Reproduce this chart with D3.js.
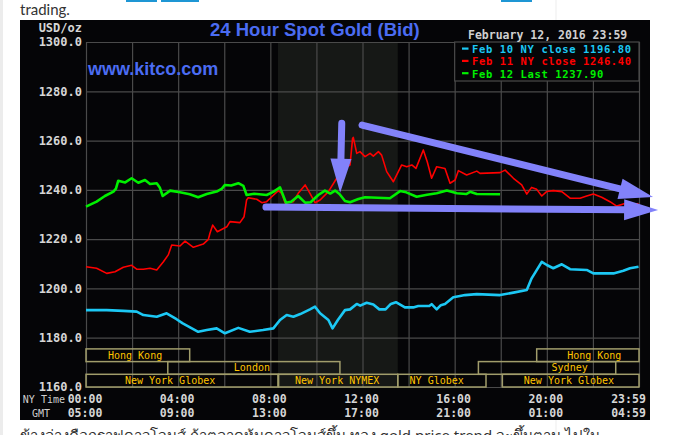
<!DOCTYPE html>
<html><head><meta charset="utf-8">
<script src="https://cdn.jsdelivr.net/npm/d3@7"></script>
<style>
html,body{margin:0;padding:0;background:#fff;overflow:hidden}
svg{display:block}
</style></head><body>
<svg id="c" width="675" height="435"></svg>
<script>
// ---------------- DATA ----------------
const chartTitle = "24 Hour Spot Gold (Bid)";
const chartDate = "February 12, 2016 23:59";
const yUnit = "USD/oz";
const watermark = "www.kitco.com";
const seriesNames = ["Feb 10 NY close 1196.80", "Feb 11 NY close 1246.40", "Feb 12 Last 1237.90"];

const yTicks = [1160, 1180, 1200, 1220, 1240, 1260, 1280, 1300];
const gridHours = [0, 2, 4, 6, 8, 10, 12, 14, 16, 18, 20, 22, 24];
const labelHours = [0, 4, 8, 12, 16, 20, 24];
const nyTimeLabels = ["00:00", "04:00", "08:00", "12:00", "16:00", "20:00", "23:59"];
const gmtLabels = ["05:00", "09:00", "13:00", "17:00", "21:00", "01:00", "04:59"];

// [hour (NY time), price]
const feb10 = [[0,1191.2],[0.9,1191.2],[1.62,1190.9],[2.2,1190.6],[2.49,1189.2],[3.07,1188.5],[3.5,1189.9],[3.93,1187.5],[4.2,1185.8],[4.87,1182.4],[5.24,1183.1],[5.67,1183.8],[6.03,1181.8],[6.61,1184.0],[7.11,1182.4],[7.68,1183.1],[8.13,1183.8],[8.42,1187.2],[8.71,1189.2],[9.0,1188.5],[9.3,1189.6],[9.72,1191.5],[9.94,1192.6],[10.16,1189.9],[10.52,1187.2],[10.7,1183.8],[10.93,1187.2],[11.24,1191.2],[11.46,1191.5],[11.75,1193.7],[11.9,1193.0],[12.18,1194.2],[12.47,1193.5],[12.73,1191.5],[13.0,1191.5],[13.23,1193.7],[13.45,1194.4],[13.84,1192.3],[14.2,1192.3],[14.42,1192.9],[14.9,1192.9],[15.0,1193.6],[15.22,1191.5],[15.4,1193.2],[15.58,1193.7],[15.94,1196.4],[16.23,1196.9],[16.45,1197.3],[16.96,1197.7],[17.97,1197.3],[18.55,1198.3],[19.13,1199.4],[19.34,1204.1],[19.78,1210.8],[20.0,1209.5],[20.28,1208.2],[20.65,1209.8],[21.01,1207.8],[21.73,1207.5],[22.02,1206.1],[22.89,1206.1],[23.32,1207.2],[23.61,1208.2],[23.98,1208.8]];

const feb11 = [[0,1208.8],[0.46,1208.2],[0.9,1206.1],[1.26,1206.8],[1.62,1208.6],[1.98,1209.4],[2.2,1207.8],[2.49,1207.8],[2.78,1208.2],[3.07,1207.5],[3.36,1210.8],[3.57,1213.6],[3.72,1217.6],[4.08,1217.2],[4.3,1219.2],[4.66,1216.7],[5.09,1218.0],[5.31,1219.9],[5.38,1222.4],[5.5,1225.7],[5.7,1223.0],[6.11,1225.0],[6.25,1227.1],[6.68,1226.7],[6.86,1229.1],[6.97,1235.9],[7.04,1236.8],[7.41,1236.2],[7.63,1234.8],[7.84,1235.2],[7.99,1236.6],[8.35,1239.7],[8.49,1238.6],[8.64,1234.8],[9.0,1235.2],[9.21,1238.6],[9.51,1242.0],[9.72,1238.6],[9.94,1234.8],[10.16,1235.9],[10.52,1239.3],[10.88,1244.7],[11.32,1249.4],[11.46,1250.1],[11.57,1260.9],[11.6,1261.3],[11.75,1254.8],[11.89,1255.5],[12.11,1253.5],[12.33,1254.8],[12.47,1253.7],[12.69,1255.5],[12.83,1254.1],[13.05,1247.4],[13.34,1243.3],[13.7,1250.1],[13.92,1249.4],[14.14,1250.1],[14.32,1248.7],[14.64,1256.2],[14.81,1251.4],[15.0,1244.7],[15.22,1249.4],[15.58,1248.7],[15.8,1242.7],[16.02,1244.0],[16.16,1247.8],[16.52,1246.0],[16.96,1247.6],[17.1,1246.7],[17.97,1247.0],[18.19,1248.0],[18.55,1244.7],[18.91,1242.0],[19.13,1238.3],[19.34,1241.0],[19.56,1240.2],[19.78,1237.5],[19.99,1239.3],[20.28,1239.7],[20.65,1239.3],[21.01,1236.6],[21.44,1236.6],[21.73,1237.5],[22.02,1238.3],[22.38,1237.0],[22.74,1235.2],[23.03,1233.4],[23.32,1234.3],[23.9,1234.3],[23.98,1234.5]];

const feb12 = [[0,1233.2],[0.46,1235.2],[0.82,1237.5],[1.19,1239.3],[1.3,1240.5],[1.4,1243.7],[1.7,1243.0],[1.98,1244.7],[2.27,1242.9],[2.56,1244.0],[2.78,1242.4],[3.07,1242.7],[3.2,1241.0],[3.33,1237.5],[3.65,1239.7],[4.08,1239.0],[4.5,1238.2],[4.87,1237.0],[5.24,1238.3],[5.67,1239.3],[5.9,1240.5],[6.03,1242.0],[6.3,1241.8],[6.61,1242.7],[6.83,1241.6],[6.97,1237.9],[7.3,1238.4],[7.84,1237.9],[8.13,1239.2],[8.42,1241.0],[8.68,1234.8],[8.9,1235.2],[9.21,1237.5],[9.51,1234.8],[9.75,1235.0],[10.08,1237.9],[10.37,1239.7],[10.6,1238.5],[10.81,1239.7],[11.0,1238.3],[11.24,1235.5],[11.46,1235.0],[11.82,1236.3],[12.11,1237.0],[13.19,1236.6],[13.63,1239.5],[13.9,1239.0],[14.35,1237.2],[14.8,1238.0],[15.22,1238.6],[15.66,1239.7],[16.1,1238.6],[16.5,1238.3],[16.67,1239.2],[16.96,1238.3],[17.97,1238.2]];

// NYMEX pit session shading (hours)
const shadeStart = 8.33, shadeEnd = 13.53;

// trading sessions: name, row (0 = top), start hour, end hour, label hour
const sessionNames  = ["Hong Kong", "Hong Kong", "London", "Sydney", "New York Globex", "New York NYMEX", "NY Globex", "New York Globex"];
const sessionRows   = [0, 0, 1, 1, 2, 2, 2, 2];
const sessionStarts = [0, 19.56, 3.55, 17.03, 0, 8.36, 13.53, 18.07];
const sessionEnds   = [4.5, 24, 11.02, 22.99, 8.33, 13.53, 17.36, 24];
const sessionLabelAt= [2.13, 22.06, 7.2, 20.99, 3.65, 10.9, 15.22, 20.96];

// hand-drawn annotation arrows, in chart coordinates [hour, price]
const arrowFrom = [[11.1, 1267.0], [11.98, 1266.3], [7.81, 1233.0]];
const arrowTo   = [[11.03, 1238.8], [24.61, 1237.1], [24.83, 1231.8]];

const pageTopText = "trading.";
const pageBottomText = "ข้างล่างคือกราฟดาวโจนส์ ถ้าตลาดหุ้นดาวโจนส์ขึ้น ทอง gold price trend จะขึ้นตาม ไปใน";

// ---------------- STYLE / LAYOUT ----------------
const colors = ["#1cc8f4", "#ff0000", "#00f000"];
const widths = [2.6, 1.6, 2.6];
const mono = "'DejaVu Sans Mono', monospace";
const gridColor = "#4a4a4a";

const svg = d3.select("#c");
svg.append("rect").attr("width", 675).attr("height", 435).attr("fill", "#fff");
// page decorations
svg.append("rect").attr("x", 0).attr("y", 0).attr("width", 3).attr("height", 435).attr("fill", "#ececec");
svg.append("rect").attr("x", 555.5).attr("y", 0).attr("width", 1).attr("height", 435).attr("fill", "#eeeeee");
[[126,157],[161,199],[501,532]].forEach(s => svg.append("rect").attr("x", s[0]).attr("y", 0).attr("width", s[1]-s[0]).attr("height", 2).attr("fill", "#1e96d4"));
svg.append("text").attr("x", 20).attr("y", 15).attr("font-family", "Lato, 'Open Sans', sans-serif").attr("font-size", 15).attr("fill", "#333").text(pageTopText);
svg.append("text").attr("x", 20).attr("y", 441).attr("font-family", "'Noto Sans', 'DejaVu Sans', sans-serif").attr("font-size", 15).attr("fill", "#333").text(pageBottomText);

// chart image background
svg.append("rect").attr("x", 20).attr("y", 20).attr("width", 630).attr("height", 400).attr("fill", "#050507");

const x = d3.scaleLinear().domain([0, 24]).range([86, 639]);
const y = d3.scaleLinear().domain([1160, 1300]).range([387, 42]);

// shading
svg.append("rect").attr("x", x(shadeStart)).attr("y", y(1300))
  .attr("width", x(shadeEnd) - x(shadeStart)).attr("height", y(1160) - y(1300)).attr("fill", "#161816");

// vertical grid
const gx = svg.append("g").attr("transform", `translate(0,${y(1160)})`)
  .call(d3.axisBottom(x).tickValues(gridHours).tickSize(-(y(1160) - y(1300))).tickFormat(""));
gx.select(".domain").remove();
gx.selectAll("line").attr("stroke", gridColor).attr("stroke-width", 1.2);

// horizontal grid + y labels
const gy = svg.append("g").attr("transform", `translate(${x(0)},0)`)
  .call(d3.axisLeft(y).tickValues(yTicks).tickSize(-(x(24) - x(0))).tickPadding(4).tickFormat(d3.format(".1f")));
gy.select(".domain").remove();
gy.selectAll("line").attr("stroke", gridColor).attr("stroke-width", 1.2);
gy.selectAll("text").attr("fill", "#d6d6d6").attr("font-family", mono).attr("font-weight", "bold").attr("font-size", 12);

// x labels (NY time and GMT)
function timeAxis(labels, pad) {
  const g = svg.append("g").attr("transform", `translate(0,${y(1160)})`)
    .call(d3.axisBottom(x).tickValues(labelHours).tickSize(0).tickPadding(pad)
      .tickFormat((d, i) => labels[i]));
  g.select(".domain").remove();
  g.selectAll("text").attr("fill", "#d6d6d6").attr("font-family", mono).attr("font-weight", "bold").attr("font-size", 11.5)
    .attr("dx", (d, i) => i === labels.length - 1 ? -11 : -1.5);
}
timeAxis(nyTimeLabels, 7.5);
timeAxis(gmtLabels, 21.5);
svg.append("text").attr("x", 65).attr("y", 403).attr("text-anchor", "end").attr("font-family", mono).attr("font-size", 10).attr("fill", "#cfcfcf").text("NY Time");
svg.append("text").attr("x", 32).attr("y", 417).attr("font-family", mono).attr("font-size", 10).attr("fill", "#cfcfcf").text("GMT");
svg.append("text").attr("x", 82).attr("y", 32).attr("text-anchor", "end").attr("font-family", mono).attr("font-weight", "bold").attr("font-size", 12).attr("fill", "#d6d6d6").text(yUnit);

// series lines
const line = d3.line().x(d => x(d[0])).y(d => y(d[1]));
[feb10, feb11, feb12].forEach((s, i) => {
  svg.append("path").datum(s).attr("d", line).attr("fill", "none")
    .attr("stroke", colors[i]).attr("stroke-width", widths[i]).attr("stroke-linejoin", "round");
});

// sessions
const rowH = 12.7;
const plotBottom = y(1160);
const sg = svg.append("g");
sessionNames.forEach((n, i) => {
  const top = plotBottom - (3 - sessionRows[i]) * rowH;
  sg.append("rect").attr("x", x(sessionStarts[i])).attr("y", top)
    .attr("width", x(sessionEnds[i]) - x(sessionStarts[i])).attr("height", rowH)
    .attr("fill", "none").attr("stroke", "#a19d6b").attr("stroke-width", 1.5);
  sg.append("text").attr("x", x(sessionLabelAt[i])).attr("y", top + rowH - 3)
    .attr("text-anchor", "middle").attr("font-family", mono).attr("font-size", 10).attr("fill", "#ffc400").text(n);
});

// legend box
svg.append("rect").attr("x", x(16)).attr("y", y(1300)).attr("width", x(24) - x(16)).attr("height", 39)
  .attr("fill", "#050507").attr("stroke", gridColor).attr("stroke-width", 1.2);
seriesNames.forEach((n, i) => {
  const by = 53 + i * 12.3;
  svg.append("rect").attr("x", 462).attr("y", by - 5.5).attr("width", 6.5).attr("height", 2.2).attr("fill", colors[i]);
  svg.append("text").attr("x", 472).attr("y", by).attr("font-family", mono).attr("font-weight", "bold")
    .attr("font-size", 10.5).attr("letter-spacing", 0.62).attr("fill", colors[i]).text(n);
});

// titles
svg.append("text").attr("x", 210).attr("y", 36).attr("font-family", "'Liberation Sans', Arial, sans-serif").attr("font-weight", "bold")
  .attr("font-size", 18.5).attr("fill", "#4b6cf2").text(chartTitle);
svg.append("text").attr("x", 468).attr("y", 38.5).attr("font-family", mono).attr("font-weight", "bold")
  .attr("font-size", 11.5).attr("fill", "#d0d0d0").text(chartDate);
svg.append("text").attr("x", 88).attr("y", 75).attr("font-family", "'Liberation Sans', Arial, sans-serif").attr("font-weight", "bold")
  .attr("font-size", 18).attr("fill", "#4b6cf2").text(watermark);

// annotation arrows
const arrowColor = "#8282fa";
arrowFrom.forEach((f, i) => {
  const p0 = [x(f[0]), y(f[1])], p1 = [x(arrowTo[i][0]), y(arrowTo[i][1])];
  const dx = p1[0] - p0[0], dy = p1[1] - p0[1], len = Math.hypot(dx, dy);
  const ux = dx / len, uy = dy / len, headL = 34, headW = 10.5;
  const base = [p1[0] - ux * headL, p1[1] - uy * headL];
  svg.append("line").attr("x1", p0[0]).attr("y1", p0[1]).attr("x2", base[0] + ux * 2).attr("y2", base[1] + uy * 2)
    .attr("stroke", arrowColor).attr("stroke-width", 7).attr("stroke-linecap", "round");
  const pts = [p1, [base[0] - uy * headW, base[1] + ux * headW], [base[0] + uy * headW, base[1] - ux * headW]];
  svg.append("path").attr("d", "M" + pts.map(p => p.join(",")).join("L") + "Z").attr("fill", arrowColor);
});
</script>
</body></html>
